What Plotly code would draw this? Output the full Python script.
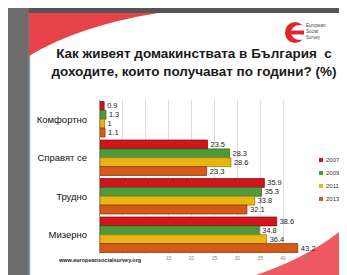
import plotly.graph_objects as go

categories = ["Комфортно", "Справят се", "Трудно", "Мизерно"]
years = ["2007", "2009", "2011", "2013"]
v2007 = [0.9, 23.5, 35.9, 38.6]
v2009 = [1.3, 28.3, 35.3, 34.8]
v2011 = [1, 28.6, 33.8, 36.4]
v2013 = [1.1, 23.3, 32.1, 43.2]
series = [v2007, v2009, v2011, v2013]
x_ticks = [5, 10, 15, 20, 25, 30, 35, 40, 45]
x_tick_labels = ["", "", "15", "20", "25", "30", "35", "40", "45"]

colors = ["#d3141d", "#4e9a3a", "#e9b513", "#d45a17"]
edges = ["#8c0d12", "#2e6a22", "#a57d08", "#8e3a0c"]
label_sizes = [7.5, 7.5, 7.5, 9.5]

W, H = 347, 275
L, R, T, B = 92, 49, 92, 29
PW, PH = W - L - R, H - T - B
FONT = "Liberation Sans, Arial, sans-serif"


def X(px):
    return (px - L) / PW


def Y(py):
    return (H - B - py) / PH


fig = go.Figure()
for name, vals, c, e, s in zip(years, series, colors, edges, label_sizes):
    fig.add_trace(go.Bar(
        y=categories, x=vals, name=name, orientation="h",
        marker=dict(color=c, line=dict(color=e, width=0.8)),
        text=[f"{v:g}" for v in vals], textposition="outside",
        textfont=dict(size=s, color="#1a1a1a", family=FONT),
        cliponaxis=False, showlegend=False,
    ))

shapes = [
    dict(type="rect", xref="paper", yref="paper", x0=X(0), x1=X(21), y0=Y(H), y1=Y(0),
         fillcolor="#6c6c6c", line=dict(width=0), layer="below"),
    dict(type="rect", xref="paper", yref="paper", x0=X(336), x1=X(W), y0=Y(H), y1=Y(0),
         fillcolor="#3e3e3e", line=dict(width=0), layer="below"),
    dict(type="rect", xref="paper", yref="paper", x0=X(0), x1=X(W), y0=Y(H), y1=Y(268),
         fillcolor="#707070", line=dict(width=0), layer="below"),
    dict(type="rect", xref="paper", yref="paper", x0=X(21), x1=X(336), y0=Y(268), y1=Y(5),
         fillcolor="#ffffff", line=dict(width=0), layer="below"),
    dict(type="line", xref="paper", yref="paper", x0=X(21.5), x1=X(21.5), y0=Y(268), y1=Y(5),
         line=dict(color="#8a9ab0", width=1.5), layer="below"),
]

p = (f"M {X(21)},{Y(5)} L {X(150)},{Y(5)} "
     f"Q {X(70)},{Y(18)} {X(21)},{Y(48)} Z")
shapes.append(dict(type="path", xref="paper", yref="paper", path=p,
                   fillcolor="#e8424a", line=dict(width=0), layer="below"))
p2 = (f"M {X(336)},{Y(220)} L {X(336)},{Y(268)} L {X(245)},{Y(268)} "
      f"Q {X(300)},{Y(250)} {X(336)},{Y(220)} Z")
shapes.append(dict(type="path", xref="paper", yref="paper", path=p2,
                   fillcolor="#ef5a62", line=dict(width=0), layer="below"))

# logo
shapes.append(dict(type="circle", xref="paper", yref="paper",
                   x0=X(277), x1=X(297), y0=Y(35), y1=Y(14),
                   fillcolor="#e2242c", line=dict(width=0)))
shapes.append(dict(type="circle", xref="paper", yref="paper",
                   x0=X(283), x1=X(300), y0=Y(32), y1=Y(17),
                   fillcolor="#ffffff", line=dict(width=0)))
shapes.append(dict(type="rect", xref="paper", yref="paper",
                   x0=X(281), x1=X(296), y0=Y(26.5), y1=Y(22.5),
                   fillcolor="#e2242c", line=dict(width=0)))

annotations = [
    dict(text="European<br>Social<br>Survey", x=X(296), y=Y(13), xref="paper", yref="paper",
         xanchor="left", yanchor="top", showarrow=False, align="left",
         font=dict(size=4.5, color="#444444", family=FONT)),
    dict(text="<b>www.europeansocialsurvey.org</b>", x=X(48), y=Y(252), xref="paper", yref="paper",
         xanchor="left", yanchor="middle", showarrow=False,
         font=dict(size=5.5, color="#222222", family=FONT)),
]

for i, (name, c) in enumerate(zip(years, colors)):
    py = 152 + i * 13
    shapes.append(dict(type="rect", xref="paper", yref="paper",
                       x0=X(311), x1=X(315), y0=Y(py + 2), y1=Y(py - 2),
                       fillcolor=c, line=dict(width=0)))
    annotations.append(dict(text=name, x=X(316), y=Y(py), xref="paper", yref="paper",
                            xanchor="left", yanchor="middle", showarrow=False,
                            font=dict(size=6, color="#333333", family=FONT)))

fig.update_layout(
    width=W, height=H,
    margin=dict(l=L, r=R, t=T, b=B, pad=0),
    paper_bgcolor="#555555",
    plot_bgcolor="rgba(0,0,0,0)",
    barmode="group", bargap=0.08, bargroupgap=0,
    title=dict(
        text="<b>Как живеят домакинствата в България\u00a0 с</b><br><b>доходите, които получават по години? (%)</b>",
        x=186 / W, xanchor="center", y=1 - 50 / H, yanchor="top",
        font=dict(size=13.5, color="#1a1a1a", family=FONT),
    ),
    xaxis=dict(range=[0, 45], tickvals=x_ticks, ticktext=x_tick_labels,
               showgrid=True, gridcolor="#dddddd", gridwidth=1, zeroline=False,
               tickfont=dict(size=5, color="#888888", family=FONT), fixedrange=True),
    yaxis=dict(autorange="reversed", showline=True, linecolor="#999999", linewidth=1,
               ticks="", ticklabelstandoff=10,
               tickfont=dict(size=9.5, color="#111111", family=FONT)),
    shapes=shapes,
    annotations=annotations,
)

fig.write_html("out.html")
